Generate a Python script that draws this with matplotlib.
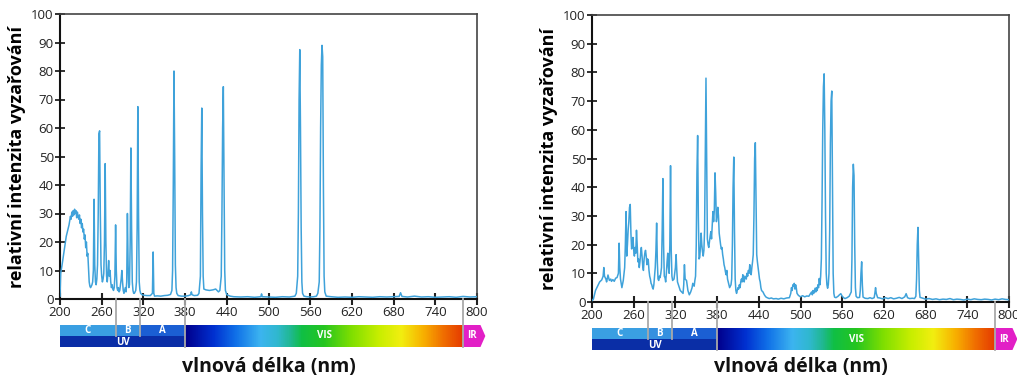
import matplotlib
matplotlib.use("Agg")
import matplotlib.pyplot as plt
import numpy as np
from matplotlib.colors import LinearSegmentedColormap
from matplotlib.patches import Rectangle, Polygon
from matplotlib.lines import Line2D
import matplotlib.transforms as mtransforms

plt.rcParams['font.family'] = ['Open Sans', 'DejaVu Sans']

# ---------------- data ----------------
left_wl = [200, 201, 203, 206, 209, 211, 213, 215, 216, 217, 218, 219, 220, 221, 222, 223, 224, 225, 226, 227,
           228, 229, 230, 231, 232, 233, 234, 235, 236, 237, 238, 239, 240, 241, 242, 243, 244, 245, 246, 247,
           248, 249, 250, 251, 252, 253, 254, 255, 256, 257, 258, 259, 260, 261, 262, 263, 264, 265, 266, 267,
           268, 269, 270, 271, 272, 273, 274, 275, 276, 277, 278, 279, 280, 281, 282, 283, 284, 285, 286, 287,
           288, 289, 290, 291, 292, 293, 294, 295, 296, 297, 298, 299, 300, 301, 302, 303, 304, 305, 306, 307,
           308, 309, 310, 311, 312, 313, 314, 315, 316, 318, 321, 325, 330, 333, 334, 335, 336, 340, 345, 350,
           355, 359, 361, 362, 363, 364, 365, 366, 367, 368, 370, 375, 380, 385, 388, 389, 390, 393, 398, 400,
           402, 403, 404, 405, 406, 407, 410, 415, 420, 424, 426, 428, 430, 432, 433, 434, 435, 436, 437, 438,
           440, 445, 450, 460, 470, 480, 489, 490, 491, 500, 510, 520, 530, 538, 540, 542, 543, 544, 545, 546,
           547, 548, 549, 551, 555, 560, 565, 569, 571, 573, 574, 575, 576, 577, 578, 579, 580, 581, 583, 590,
           600, 610, 620, 630, 640, 650, 660, 670, 680, 688, 690, 692, 700, 710, 720, 730, 740, 750, 760, 770,
           780, 790, 800]
left_val = [1, 9, 12, 17, 22, 24, 26, 29, 28, 30.5, 29, 31, 29.5, 31.5, 30, 31, 28.5, 30.5, 29, 28,
            29.5, 26.5, 28, 25, 26.5, 23.5, 24.5, 21, 22.5, 18, 20, 15, 16, 11, 6, 4.5, 4, 4.5, 5, 6,
            10, 35, 12, 6, 5, 7, 12, 30, 58, 59, 30, 12, 8, 6, 7, 9, 20, 47.5, 20, 8,
            6, 9, 13.5, 8, 10, 6, 4, 5, 3.5, 3, 4, 8, 26, 10, 4, 3, 4, 2.5, 3, 5,
            7, 10, 6, 3, 2, 3, 4, 2.5, 6, 30, 12, 4, 5, 20, 53, 25, 6, 3, 2, 2,
            2.5, 3, 6, 25, 67.5, 30, 6, 3, 2, 1.5, 1.3, 1.2, 1.2, 2, 16.5, 2, 1, 1.1, 1.0, 1.2,
            1.3, 1.6, 3, 10, 40, 80, 50, 12, 4, 2, 1.2, 1.0, 1.0, 1.2, 1.5, 2.5, 1.5, 1.2, 1.3, 2,
            8, 45, 67, 30, 8, 3.5, 3.2, 3.0, 3.2, 3.5, 3, 2.5, 3, 8, 30, 60, 74.5, 40, 10, 3,
            1.5, 1, 0.8, 0.7, 0.8, 0.6, 0.8, 1.8, 0.8, 0.7, 0.6, 0.8, 0.7, 1, 2, 8, 30, 70, 87.5, 60,
            25, 6, 2, 1, 0.8, 0.7, 0.8, 1, 2, 6, 25, 60, 82, 89, 85, 40, 8, 2.5, 1, 0.8,
            0.6, 0.7, 0.6, 0.8, 0.7, 0.6, 0.8, 0.7, 0.8, 0.9, 2.2, 0.9, 0.7, 1.0, 0.7, 0.8, 0.6, 0.7, 0.8, 0.6,
            0.9, 0.7, 0.8]

right_wl = [200, 202, 205, 208, 211, 214, 216, 217, 218, 220, 221, 223, 225, 227, 228, 230, 232, 234, 236, 238,
            239, 240, 241, 242, 243, 245, 247, 248, 249, 250, 251, 252, 253, 254, 255, 256, 257, 258, 259, 260,
            261, 262, 263, 264, 265, 266, 267, 268, 269, 270, 271, 272, 273, 274, 275, 276, 277, 278, 279, 280,
            281, 282, 283, 284, 285, 286, 287, 288, 289, 290, 291, 292, 293, 294, 295, 296, 297, 298, 299, 300,
            301, 302, 303, 304, 305, 306, 307, 308, 309, 310, 311, 312, 313, 314, 315, 316, 318, 320, 321, 322,
            323, 325, 327, 329, 331, 332, 333, 334, 336, 338, 340, 342, 344, 345, 347, 348, 349, 350, 351, 352,
            353, 354, 355, 356, 357, 358, 359, 360, 361, 362, 363, 364, 365, 366, 367, 368, 369, 370, 371, 372,
            373, 374, 375, 376, 377, 378, 379, 380, 381, 382, 383, 384, 385, 386, 387, 388, 389, 390, 391, 392,
            393, 394, 395, 396, 397, 398, 399, 400, 401, 402, 403, 404, 405, 406, 407, 408, 409, 410, 411, 412,
            413, 414, 415, 416, 417, 418, 419, 420, 421, 422, 423, 424, 425, 426, 427, 428, 429, 430, 431, 432,
            433, 434, 435, 436, 437, 438, 439, 440, 441, 442, 443, 444, 446, 448, 450, 452, 455, 458, 461, 465,
            468, 472, 476, 480, 484, 486, 487, 488, 489, 490, 491, 492, 493, 494, 495, 497, 500, 503, 506, 509,
            512, 514, 516, 517, 518, 519, 521, 522, 523, 524, 525, 526, 527, 528, 529, 530, 531, 532, 533, 534,
            535, 536, 537, 538, 539, 540, 541, 542, 543, 544, 545, 546, 547, 548, 549, 551, 554, 556, 558, 560,
            562, 564, 567, 570, 572, 573, 574, 575, 576, 577, 578, 579, 580, 582, 585, 586, 587, 588, 589, 590,
            593, 597, 600, 603, 606, 607, 608, 609, 611, 614, 618, 622, 626, 630, 634, 638, 642, 646, 650, 652,
            654, 657, 661, 664, 666, 667, 668, 669, 670, 671, 672, 675, 680, 685, 690, 695, 700, 705, 710, 715,
            720, 725, 730, 735, 740, 745, 750, 755, 760, 765, 770, 775, 780, 785, 790, 795, 800]
right_val = [0.5, 1, 4, 5.5, 7, 7.7, 9, 12, 9, 8, 7, 9.4, 7.5, 8, 7.2, 7.8, 7.2, 8.3, 8.5, 10,
             20.5, 12, 8, 6.5, 5, 7.5, 12, 20, 31.5, 16, 20, 25, 28, 33, 34, 24, 18.5, 20, 22.5, 18,
             16, 19, 17, 25, 20, 14, 15, 12, 14, 17, 19, 16, 12.5, 11, 15, 17, 18, 16, 13, 15,
             14.5, 11, 9, 8, 6.5, 6, 5, 4.5, 6, 9, 12, 18, 27.5, 14, 8, 7.5, 9, 8.5, 10, 12,
             25, 43, 20, 9, 8.5, 7, 10, 14, 17, 12, 10, 20, 47.5, 18, 9, 7.5, 8, 12, 16.5, 11,
             7, 5.5, 4, 3.5, 3, 6, 13, 8, 7.5, 4, 2.5, 3.5, 5, 6.5, 5.5, 7.5, 9, 20, 45, 58,
             30, 15, 15.5, 19, 24, 20, 17.5, 16, 18, 25, 50, 78, 50, 22, 20, 19, 21, 23, 24.5, 22,
             27, 31.5, 28, 32, 45, 38, 28, 30, 33, 30, 24, 22, 20, 18.5, 19, 16.5, 15, 13, 12, 10.5,
             9.5, 11, 8, 7, 6, 5, 5.5, 6, 8, 20, 40, 50.5, 25, 8, 4, 3, 4, 5, 4.5, 6,
             5, 7, 8, 7, 9.5, 8, 7, 9, 8.5, 8, 10, 9, 11, 10, 13, 11, 9.5, 12, 14, 16.5,
             30, 50, 55.5, 35, 16.5, 14, 12, 10, 8, 7, 5, 4, 3.5, 2.5, 1.8, 1.5, 1.2, 1.4, 1.1, 1.2,
             1.0, 1.3, 1.1, 1.4, 1.5, 3, 5, 4, 6, 5.5, 6.5, 4.5, 6, 4.8, 3, 2.3, 1.8, 2.2, 1.8, 2.1,
             2.0, 2.8, 3.5, 2.5, 4, 3, 4.8, 3.5, 5, 4, 6, 5, 8.2, 6, 9, 15, 35, 60, 75, 79.5,
             60, 30, 10, 6, 4.8, 6, 10, 25, 55, 70, 73.5, 40, 10, 3, 1.7, 1.5, 2, 2.5, 2.9, 2,
             1.5, 1.2, 1.5, 2, 3, 3.5, 15, 40, 48, 44, 20, 5, 2, 1.5, 1.6, 4, 10, 14, 6, 1.7,
             1.3, 1.2, 1.5, 1.2, 1.5, 3, 5, 3, 1.5, 1.4, 1.1, 1.5, 1.2, 1.5, 1.1, 1.3, 1.6, 1.2, 1.8, 2.9,
             1.5, 1.2, 1.3, 1.2, 2, 8, 20, 26, 15, 4, 1.6, 1.4, 1.0, 1.2, 0.9, 1.1, 0.8, 1.0, 0.9, 1.2,
             0.8, 1.0, 0.9, 0.7, 1.0, 0.8, 1.1, 0.9, 0.8, 1.0, 0.9, 0.7, 1.0, 0.8, 1.1, 0.9, 0.8]

x_ticks = [200, 260, 320, 380, 440, 500, 560, 620, 680, 740, 800]
y_ticks = [0, 10, 20, 30, 40, 50, 60, 70, 80, 90, 100]
uv_sub = [("C", 200, 280), ("B", 280, 315), ("A", 315, 380)]
uv_range = (200, 380)
vis_range = (380, 780)
ir_range = (780, 805)
band_edges = [280, 315, 380, 780]

x_label = "vlnová délka (nm)"
y_label = "relativní intenzita vyzařování"

# ---------------- style ----------------
line_color = "#3fa2da"
sub_colors = {"C": "#3a9fe2", "B": "#3590e0", "A": "#1b5fd3"}
uv_color = "#0a2ea6"
ir_color = "#e21fc6"
vis_cmap = LinearSegmentedColormap.from_list("vis", [
    (0.0, "#00008c"), (0.10, "#0030d0"), (0.18, "#1070e8"), (0.27, "#3cb4f0"),
    (0.33, "#30b8d0"), (0.38, "#20b890"), (0.42, "#10bf45"), (0.50, "#25c520"),
    (0.60, "#80df00"), (0.70, "#c8ee00"), (0.78, "#f2ee10"), (0.86, "#f8b000"),
    (0.93, "#f07000"), (1.0, "#e63c00")])

W, H = 1017, 378
fig = plt.figure(figsize=(W / 100, H / 100), dpi=100)

panels = [
    (left_wl, left_val, (60, 477, 14, 299), (325, 347)),
    (right_wl, right_val, (592, 1009, 15, 302), (328, 350)),
]

for wl, val, (x0, x1, y0, y1), (b0, b1) in panels:
    ax = fig.add_axes([x0 / W, 1 - y1 / H, (x1 - x0) / W, (y1 - y0) / H])
    ax.plot(wl, val, color=line_color, lw=1.1, zorder=3)
    ax.set_xlim(200, 800)
    ax.set_ylim(0, 100)
    ax.set_xticks(x_ticks)
    ax.set_yticks(y_ticks)
    ax.tick_params(axis='x', direction='inout', length=8, width=1.5, labelsize=9.5,
                   pad=1, colors='#222222')
    ax.tick_params(axis='y', direction='inout', length=7, width=1.3, labelsize=9.5,
                   pad=1, colors='#222222')
    for side in ['top', 'right']:
        ax.spines[side].set_color('#444444')
        ax.spines[side].set_linewidth(1.2)
    for side in ['left', 'bottom']:
        ax.spines[side].set_color('#111111')
        ax.spines[side].set_linewidth(1.5)
    ax.set_ylabel(y_label, fontsize=13, fontweight='bold', labelpad=4)

    # colour bar axes
    bax = fig.add_axes([x0 / W, 1 - b1 / H, (x1 - x0) / W, (b1 - b0) / H])
    bax.set_xlim(200, 800)
    bax.set_ylim(0, 2)
    bax.axis('off')
    for name, a, b in uv_sub:
        bax.add_patch(Rectangle((a, 1), b - a, 1, color=sub_colors[name], lw=0))
        bax.text((a + b) / 2, 1.5, name, color='white', fontsize=7, fontweight='bold',
                 ha='center', va='center')
    bax.add_patch(Rectangle((uv_range[0], 0), uv_range[1] - uv_range[0], 1, color=uv_color, lw=0))
    bax.text(sum(uv_range) / 2, 0.45, "UV", color='white', fontsize=7, fontweight='bold',
             ha='center', va='center')
    grad = np.linspace(0, 1, 400).reshape(1, -1)
    bax.imshow(grad, cmap=vis_cmap, aspect='auto',
               extent=[vis_range[0], vis_range[1], 0, 2], zorder=1)
    bax.text(sum(vis_range) / 2, 1.0, "VIS", color='white', fontsize=7, fontweight='bold',
             ha='center', va='center', zorder=3)
    bax.add_patch(Polygon([(ir_range[0], 0), (ir_range[1], 0), (ir_range[1] + 7, 1),
                           (ir_range[1], 2), (ir_range[0], 2)], closed=True,
                          color=ir_color, lw=0, clip_on=False, zorder=2))
    bax.text(ir_range[0] + 12, 1.0, "IR", color='white', fontsize=7, fontweight='bold',
             ha='center', va='center', zorder=3)

    # grey separator lines
    trans = mtransforms.blended_transform_factory(ax.transData, fig.transFigure)
    for e in band_edges:
        yb = 1 - (b1 / H) if e in (380, 780) else 1 - ((b0 + b1) / 2 / H)
        fig.add_artist(Line2D([e, e], [1 - y1 / H, yb], transform=trans,
                              color='#a9a9a9', lw=1.3, zorder=0.5))

    fig.text((x0 + x1) / 2 / W, 1 - 367 / H, x_label, fontsize=14, fontweight='bold',
             ha='center', va='center', color='#111111')

fig.savefig("out.png", dpi=100)
